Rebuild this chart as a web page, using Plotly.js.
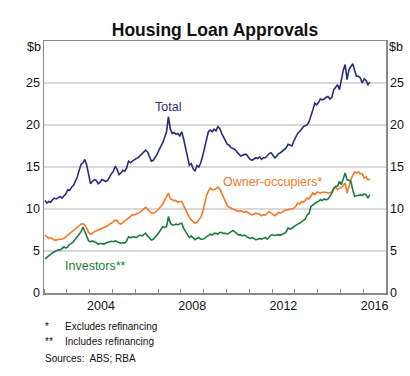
<!DOCTYPE html>
<html>
<head>
<meta charset="utf-8">
<script src="https://cdn.plot.ly/plotly-3.0.1.min.js"></script>
<style>html,body{margin:0;padding:0;background:#fff}#chart{width:410px;height:376px}</style>
</head>
<body>
<div id="chart"></div>
<script>
// Monthly data, Jan 2002 – Apr 2016 ($b)
const startYear = 2002;
const total = [
  11.0,10.7,10.9,10.8,11.1,11.3,11.2,11.4,11.5,11.3,11.6,11.8, // 2002
  12.3,12.2,12.6,12.8,13.3,13.8,14.6,15.3,15.5,15.9,15.2,14.0, // 2003
  13.0,13.3,13.5,13.4,13.0,13.2,13.5,13.4,13.3,13.4,13.9,14.2, // 2004
  14.5,15.1,14.7,14.1,14.3,14.6,14.5,14.9,15.7,15.5,15.7,15.9, // 2005
  16.0,16.1,16.3,16.5,16.8,17.0,16.8,16.2,15.7,15.8,16.1,16.5, // 2006
  17.0,17.4,17.9,18.5,19.2,21.0,19.5,19.0,19.1,18.9,19.0,18.7, // 2007
  19.2,18.3,17.3,15.9,15.2,15.4,14.8,14.5,15.2,15.0,15.5,16.3, // 2008
  17.2,18.4,19.2,19.4,19.2,19.5,19.3,19.8,19.6,19.0,18.5,18.1, // 2009
  17.7,17.6,17.3,17.2,17.1,16.8,16.6,16.3,16.4,16.5,16.5,16.2, // 2010
  15.9,15.8,16.0,16.1,16.0,16.2,15.9,16.1,16.1,16.4,16.6,16.7, // 2011
  16.4,16.1,16.3,16.6,16.7,16.9,17.1,17.3,17.7,17.6,17.5,18.1, // 2012
  18.6,19.0,19.2,19.5,19.8,19.9,20.0,20.4,21.0,21.8,22.6,22.4, // 2013
  22.7,23.1,23.0,23.1,23.3,23.4,23.1,23.3,24.2,24.5,24.8,24.2, // 2014
  25.6,26.5,27.2,25.4,26.6,27.0,27.3,26.5,25.8,25.8,25.6,25.0, // 2015
  25.5,25.3,24.8,25.1                                          // 2016
];
const ownerOccupiers = [
  6.9,6.7,6.5,6.6,6.4,6.3,6.3,6.4,6.4,6.4,6.5,6.7,
  6.9,7.1,7.2,7.4,7.6,7.8,8.0,8.2,8.25,8.1,7.7,7.2,
  7.0,7.1,7.3,7.4,7.5,7.6,7.7,7.8,7.9,8.0,8.2,8.3,
  8.5,8.7,8.6,8.3,8.2,8.4,8.6,8.7,8.9,9.1,9.3,9.3,
  9.4,9.5,9.6,9.8,10.0,10.2,10.0,9.7,9.5,9.5,9.6,9.8,
  10.0,10.3,10.6,11.0,11.4,11.9,11.2,11.1,11.0,11.0,10.8,10.9,
  10.9,10.4,9.9,9.3,9.0,8.7,8.5,8.3,8.4,8.7,9.0,9.6,
  10.5,11.6,12.1,12.5,12.3,12.3,12.4,12.6,12.4,11.9,11.3,10.8,
  10.4,10.2,10.1,10.0,9.9,9.8,9.7,9.8,9.7,9.6,9.7,9.5,
  9.4,9.3,9.4,9.5,9.4,9.4,9.2,9.3,9.3,9.5,9.7,9.5,
  9.3,9.2,9.4,9.6,9.5,9.7,9.8,9.9,9.9,10.0,10.0,10.1,
  10.3,10.7,10.6,10.9,10.8,11.0,11.3,11.2,11.5,11.9,11.7,12.0,
  12.0,11.9,12.0,12.0,12.0,11.9,11.9,12.1,12.3,12.6,12.3,12.5,
  12.5,12.8,13.1,11.9,12.9,13.5,14.0,14.4,14.3,14.4,14.2,14.2,
  13.7,13.8,13.5,13.5
];
const investors = [
  4.05,4.2,4.4,4.6,4.8,4.9,5.0,5.15,5.1,5.3,5.5,5.35,
  5.5,5.8,5.9,6.1,6.4,6.7,7.0,7.3,7.85,7.3,6.6,6.2,
  6.1,6.2,6.1,6.0,5.8,5.9,5.9,5.8,5.95,6.0,6.1,6.15,
  6.1,6.2,6.1,6.0,5.9,6.0,5.95,6.2,6.7,6.6,6.65,6.7,
  6.6,6.8,6.9,6.8,7.0,7.1,6.8,6.6,6.3,6.4,6.6,6.9,
  7.2,7.5,7.9,7.8,7.9,9.1,8.3,8.1,8.1,8.2,8.1,8.25,
  8.3,7.7,7.3,6.9,6.6,6.8,6.6,6.35,6.5,6.6,6.4,6.4,
  6.5,6.7,6.9,7.0,6.9,7.1,7.1,7.0,7.2,7.2,7.1,7.1,
  7.0,7.2,7.3,7.45,7.3,7.1,6.9,6.95,6.8,6.9,6.7,6.6,
  6.5,6.6,6.5,6.35,6.4,6.5,6.4,6.5,6.6,6.4,6.6,6.9,
  6.9,6.85,6.9,6.95,6.9,7.0,7.1,7.3,7.75,7.6,7.7,7.9,
  8.1,8.2,8.3,8.5,8.7,8.8,9.3,9.5,10.3,10.5,10.7,10.8,
  10.9,11.1,11.0,11.2,11.1,11.2,11.5,11.9,12.5,12.7,12.7,13.3,
  12.9,13.6,14.3,13.5,13.4,13.3,12.3,11.5,11.6,11.6,11.7,11.6,
  11.8,11.7,11.3,11.7
];
const yearTickLabels = ['2004','2008','2012','2016'];
const yTickVals = [0,5,10,15,20,25];
const unitLabel = '$b';
const seriesNames = ['Total','Owner-occupiers*','Investors**'];
const footnotes = [['*','Excludes refinancing'],['**','Includes refinancing']];
const sourceText = 'Sources:  ABS; RBA';

const months = total.map((_, i) => startYear + (i + 0.5) / 12);
const colors = ['#2b2c7e', '#f47a2a', '#1b7a3e'];
const font = 'Liberation Sans, Arial, sans-serif';

const mk = (y, c, name) => ({
  x: months, y: y, type: 'scatter', mode: 'lines', name: name,
  line: {color: c, width: 1.6}, hoverinfo: 'skip'
});
const data = [
  mk(total, colors[0], seriesNames[0]),
  mk(ownerOccupiers, colors[1], seriesNames[1]),
  mk(investors, colors[2], seriesNames[2]),
  {x: [], y: [], type: 'scatter', mode: 'lines', yaxis: 'y2', showlegend: false, hoverinfo: 'skip'}
];

const W = 410, H = 376, L = 44, R = 24, T = 41, B = 83;
const pw = W - L - R, ph = H - T - B;
const px2x = p => (p - L) / pw;
const py2y = p => (H - B - p) / ph;

const gridC = '#d9d9d9', frameC = '#8a8a8a';
const yax = {
  range: [0, 30], tickmode: 'array', tickvals: yTickVals, ticktext: yTickVals.map(String),
  showgrid: true, gridcolor: gridC, gridwidth: 1.5, zeroline: false,
  showline: true, linecolor: frameC, linewidth: 1.5, ticks: '',
  tickfont: {family: font, size: 12.5, color: '#111'}, fixedrange: true
};

const annotations = [
  {x: 2007.42, y: 22.1, text: seriesNames[0], color: colors[0]},
  {x: 2012.0, y: 13.2, text: seriesNames[1], color: colors[1]},
  {x: 2004.27, y: 3.25, text: seriesNames[2], color: colors[2]}
].map(a => ({x: a.x, y: a.y, xref: 'x', yref: 'y', text: a.text, showarrow: false,
  font: {family: font, size: 12.5, color: a.color}, xanchor: 'center', yanchor: 'middle'}));

// unit labels at top of both axes
annotations.push({xref: 'paper', yref: 'paper', x: px2x(42.5), y: py2y(47), text: unitLabel, showarrow: false,
  xanchor: 'right', yanchor: 'middle', xshift: 0, font: {family: font, size: 12.5, color: '#111'}});
annotations.push({xref: 'paper', yref: 'paper', x: px2x(387.5), y: py2y(47), text: unitLabel, showarrow: false,
  xanchor: 'left', yanchor: 'middle', font: {family: font, size: 12.5, color: '#111'}});

const fy = [326.5, 341.5];
footnotes.forEach((f, i) => {
  annotations.push({xref: 'paper', yref: 'paper', x: px2x(43), y: py2y(fy[i]), text: f[0],
    showarrow: false, xanchor: 'left', yanchor: 'middle', font: {family: font, size: 10, color: '#111'}});
  annotations.push({xref: 'paper', yref: 'paper', x: px2x(63), y: py2y(fy[i]), text: f[1],
    showarrow: false, xanchor: 'left', yanchor: 'middle', font: {family: font, size: 10, color: '#111'}});
});
annotations.push({xref: 'paper', yref: 'paper', x: px2x(43), y: py2y(358), text: sourceText,
  showarrow: false, xanchor: 'left', yanchor: 'middle', font: {family: font, size: 10, color: '#111'}});

const layout = {
  width: W, height: H,
  margin: {l: L, r: R, t: T, b: B},
  paper_bgcolor: '#fff', plot_bgcolor: '#fff',
  showlegend: false,
  title: {text: 'Housing Loan Approvals', font: {family: font, size: 17.5, color: '#111', weight: 'bold'},
    x: 0.5, xref: 'paper', y: 1 - 29.5 / H, yanchor: 'middle'},
  xaxis: {
    range: [2002, 2017], tickmode: 'array', tickvals: yearTickLabels.map(s => +s + 0.5), ticktext: yearTickLabels,
    ticks: '', showgrid: false, zeroline: false, showline: true, mirror: true,
    linecolor: frameC, linewidth: 1.5,
    tickfont: {family: font, size: 12.5, color: '#111'}, fixedrange: true,
    minor: {tickmode: 'linear', tick0: 2002, dtick: 1, ticks: 'inside', ticklen: 4, tickcolor: frameC, tickwidth: 1, showgrid: false}
  },
  yaxis: Object.assign({}, yax, {side: 'left'}),
  yaxis2: Object.assign({}, yax, {side: 'right', overlaying: 'y', showgrid: false}),
  annotations: annotations
};

Plotly.newPlot('chart', data, layout, {staticPlot: true, displayModeBar: false});
</script>
</body>
</html>
